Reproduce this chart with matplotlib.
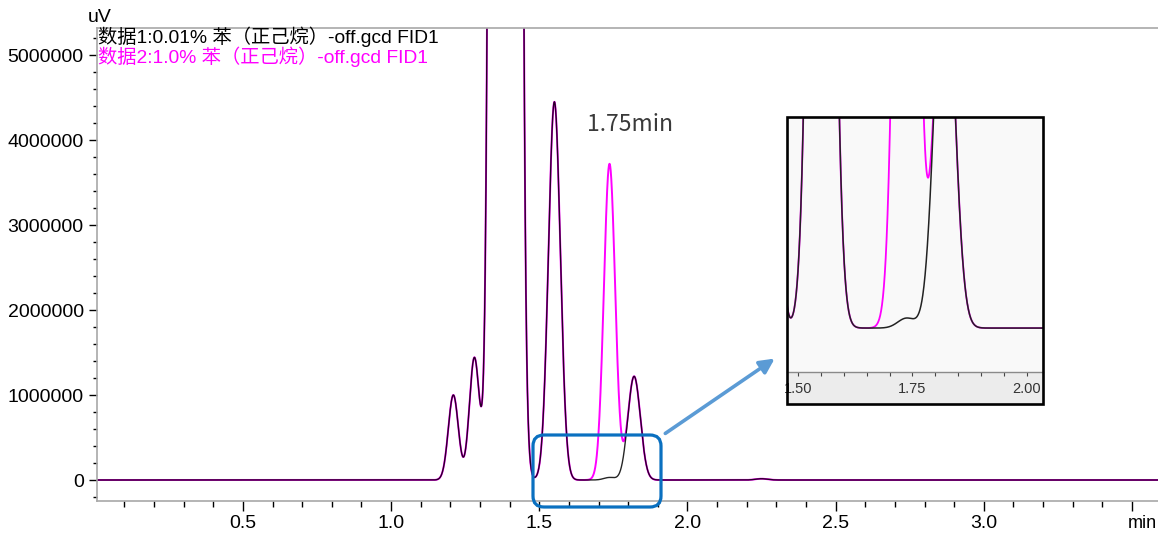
import numpy as np
import matplotlib
matplotlib.use("Agg")
import matplotlib.pyplot as plt
from matplotlib.patches import FancyBboxPatch, FancyArrowPatch, Rectangle
from matplotlib.transforms import IdentityTransform
from matplotlib.ticker import MultipleLocator, FixedLocator

plt.rcParams['font.family'] = ['Liberation Sans', 'Noto Sans CJK SC', 'DejaVu Sans']

# peak table (common to both runs)
peak_rt = [1.210, 1.281, 1.386, 1.551, 1.820, 2.250]
peak_height = [1.0e6, 1.44e6, 3.0e8, 4.45e6, 1.22e6, 1.5e4]
peak_sigma = [0.017, 0.017, 0.022, 0.020, 0.021, 0.020]

# benzene peak differs between the two runs
benzene_rt = 1.737
benzene_sigma = 0.019
benzene_height = {'data1': 3.0e4, 'data2': 3.72e6}

labels = ['数据1:0.01% 苯（正己烷）-off.gcd FID1',
          '数据2:1.0% 苯（正己烷）-off.gcd FID1']
colors = ['#000000', '#ff00ff']

W, H = 1158, 534
t = np.linspace(0.0, 3.6, 7201)


def trace(h_benz):
    y = np.zeros_like(t)
    for rt, h, s in zip(peak_rt, peak_height, peak_sigma):
        y += h * np.exp(-0.5 * ((t - rt) / s) ** 2)
    y += h_benz * np.exp(-0.5 * ((t - benzene_rt) / benzene_sigma) ** 2)
    return y


y1 = trace(benzene_height['data1'])
y2 = trace(benzene_height['data2'])

fig = plt.figure(figsize=(W / 100, H / 100), dpi=100)
ax = fig.add_axes([97 / W, 1 - 501 / H, 1 - 97 / W, (501 - 28) / H])

ax.plot(t, y2, color=colors[1], lw=1.4)
ax.plot(t, y1, color=colors[0], lw=1.0, alpha=0.85)

ax.set_xlim(0.0074, 3.588)
ax.set_ylim(-0.247e6, 5.318e6)

ax.xaxis.set_major_locator(FixedLocator([0.5, 1.0, 1.5, 2.0, 2.5, 3.0, 3.5]))
ax.xaxis.set_minor_locator(MultipleLocator(0.1))
ax.set_xticklabels(['0.5', '1.0', '1.5', '2.0', '2.5', '3.0', ''])
ax.yaxis.set_major_locator(FixedLocator([0, 1e6, 2e6, 3e6, 4e6, 5e6]))
ax.yaxis.set_minor_locator(MultipleLocator(2e5))
ax.set_yticklabels(['0', '1000000', '2000000', '3000000', '4000000', '5000000'])

ax.tick_params(axis='both', which='major', labelsize=14, direction='out', color='black', width=1.0)
ax.tick_params(axis='x', which='major', length=7, pad=3)
ax.tick_params(axis='x', which='minor', length=4.5, width=1.0)
ax.tick_params(axis='y', which='major', length=6, pad=3.5)
ax.tick_params(axis='y', which='minor', length=3, width=1.0)

for side in ['left', 'top', 'bottom']:
    ax.spines[side].set_color('#a8a8a8')
    ax.spines[side].set_linewidth(1.2)
ax.spines['right'].set_visible(False)

fig.text(88 / W, 1 - 18 / H, 'uV', fontsize=14, ha='left', va='center')
fig.text(1157 / W, 1 - 523 / H, 'min', fontsize=13, ha='right', va='center')

fig.text(98 / W, 1 - 37 / H, labels[0], fontsize=13.9, color=colors[0], ha='left', va='center')
fig.text(98 / W, 1 - 57 / H, labels[1], fontsize=13.9, color=colors[1], ha='left', va='center')

ax.text(1.662, 4.18e6, '1.75min', fontsize=16.5, color='#3a3a3a', ha='left', va='center',
        family=['Noto Sans CJK SC', 'DejaVu Sans'], fontweight='light')

# highlight box and arrow (pixel coordinates)
box = FancyBboxPatch((533, H - 507), 128, 72, boxstyle='round,pad=0,rounding_size=11',
                     fill=False, edgecolor='#0a70c0', linewidth=2.3, transform=IdentityTransform(),
                     zorder=5)
fig.add_artist(box)
arrow = FancyArrowPatch((663, H - 435), (777, H - 357), arrowstyle='-|>', mutation_scale=22,
                        color='#5b9bd5', linewidth=2.6, transform=IdentityTransform(), zorder=5)
fig.add_artist(arrow)

# inset zoom
ix0, ix1, iy_top, iy_axis, iy_bot = 787, 1043, 117, 372, 404
fig.add_artist(Rectangle((ix0, H - iy_bot), ix1 - ix0, iy_bot - iy_axis, facecolor='#ececec',
                         edgecolor='none', transform=IdentityTransform(), zorder=1))
ins = fig.add_axes([ix0 / W, 1 - iy_axis / H, (ix1 - ix0) / W, (iy_axis - iy_top) / H], zorder=2)
ins.set_facecolor('#f9f9f9')
ins.plot(t, y2, color=colors[1], lw=1.3)
ins.plot(t, y1, color='#222222', lw=1.1)
ins.set_xlim(1.476, 2.035)
ins.set_ylim(-0.133e6, 0.639e6)
ins.set_yticks([])
ins.xaxis.set_major_locator(FixedLocator([1.50, 1.75, 2.00]))
ins.xaxis.set_minor_locator(MultipleLocator(0.05))
ins.set_xticklabels(['1.50', '1.75', '2.00'])
ins.tick_params(axis='x', which='both', direction='out', length=3, width=0.8, color='#444444',
                labelsize=10.5, labelcolor='#333333', pad=4)
for side in ['left', 'top', 'right']:
    ins.spines[side].set_visible(False)
ins.spines['bottom'].set_color('#8a8a8a')
ins.spines['bottom'].set_linewidth(1.0)
fig.add_artist(Rectangle((ix0, H - iy_bot), ix1 - ix0, iy_bot - iy_top, fill=False,
                         edgecolor='black', linewidth=1.9, transform=IdentityTransform(), zorder=6))

fig.savefig('out.png', dpi=100)
